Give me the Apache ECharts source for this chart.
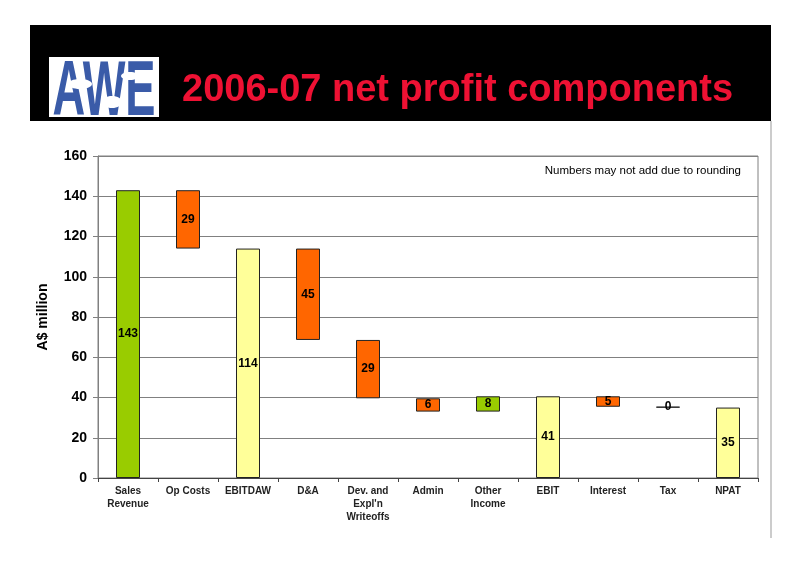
<!DOCTYPE html>
<html>
<head>
<meta charset="utf-8">
<script src="https://cdn.jsdelivr.net/npm/echarts@6/dist/echarts.min.js"></script>
<style>
html,body{margin:0;padding:0;background:#fff;}
#c{width:800px;height:565px;}
</style>
</head>
<body>
<div id="c"></div>
<script>
const categories = ['Sales\nRevenue', 'Op Costs', 'EBITDAW', 'D&A', "Dev. and\nExpl'n\nWriteoffs", 'Admin', 'Other\nIncome', 'EBIT', 'Interest', 'Tax', 'NPAT'];
const bottoms = [0, 114, 0, 68.6, 39.6, 33.0, 33.0, 0, 35.4, 35.0, 0];
const tops = [143, 143, 114, 114, 68.6, 39.6, 40.6, 40.6, 40.6, 35.4, 35.0];
const labelValues = [143, 29, 114, 45, 29, 6, 8, 41, 5, 0, 35];
const kinds = ['income', 'cost', 'total', 'cost', 'cost', 'cost', 'income', 'total', 'cost', 'cost', 'total'];
const yTicks = [0, 20, 40, 60, 80, 100, 120, 140, 160];

const kindColors = { income: '#99CC00', cost: '#FF6600', total: '#FFFF99' };

const chart = echarts.init(document.getElementById('c'), null, { renderer: 'canvas' });

const option = {
  animation: false,
  backgroundColor: '#ffffff',
  grid: { left: 98, right: 42, top: 156, bottom: 87, show: true, borderColor: '#808080', borderWidth: 1, backgroundColor: 'transparent' },
  xAxis: {
    type: 'category',
    data: categories,
    axisLine: { lineStyle: { color: '#444', width: 1 } },
    axisTick: { show: true, length: 4, lineStyle: { color: '#444' } },
    axisLabel: { interval: 0, margin: 7, fontFamily: 'Liberation Sans, Arial', fontWeight: 'bold', fontSize: 10, color: '#222', lineHeight: 13 }
  },
  yAxis: {
    type: 'value',
    min: yTicks[0],
    max: yTicks[yTicks.length - 1],
    interval: 20,
    name: 'A$ million',
    nameLocation: 'middle',
    nameGap: 48,
    nameTextStyle: { fontFamily: 'Liberation Sans, Arial', fontWeight: 'bold', fontSize: 14, color: '#000' },
    axisLine: { show: true, lineStyle: { color: '#808080' } },
    axisTick: { show: true, length: 5, lineStyle: { color: '#808080' } },
    axisLabel: { margin: 11, fontFamily: 'Liberation Sans, Arial', fontWeight: 'bold', fontSize: 14, color: '#000' },
    splitLine: { show: true, lineStyle: { color: '#808080', width: 1 } }
  },
  series: [
    {
      type: 'bar',
      stack: 'w',
      barWidth: 24,
      silent: true,
      itemStyle: { color: 'transparent', borderWidth: 0 },
      data: bottoms
    },
    {
      type: 'bar',
      stack: 'w',
      barWidth: 24,
      data: tops.map((t, i) => ({
        value: +(t - bottoms[i]).toFixed(2),
        itemStyle: { color: kindColors[kinds[i]], borderColor: '#222', borderWidth: 1 }
      })),
      label: {
        show: true,
        position: 'inside',
        formatter: p => String(labelValues[p.dataIndex]),
        fontFamily: 'Liberation Sans, Arial',
        fontWeight: 'bold',
        fontSize: 12,
        color: '#000'
      }
    }
  ],
  graphic: [
    { type: 'rect', shape: { x: 30, y: 25, width: 741, height: 96 }, style: { fill: '#000' }, z: 0 },
    { type: 'rect', shape: { x: 770, y: 121, width: 2, height: 417 }, style: { fill: '#cccccc' }, z: 0 },
    { type: 'rect', shape: { x: 49, y: 57, width: 110, height: 60 }, style: { fill: '#ffffff' }, z: 1 },
    {
      type: 'text', x: 104, y: 93, scaleX: 0.58, z: 2,
      style: { text: 'AWE', fill: '#3A5BA8', font: 'bold 78px "Liberation Sans", Arial', align: 'center', verticalAlign: 'middle' }
    },
    { type: 'ellipse', shape: { cx: 80, cy: 84, rx: 12, ry: 5 }, style: { fill: '#fff' }, z: 3 },
    { type: 'ellipse', shape: { cx: 112, cy: 102, rx: 10, ry: 6 }, style: { fill: '#fff' }, z: 3 },
    { type: 'ellipse', shape: { cx: 130, cy: 76, rx: 9, ry: 4 }, style: { fill: '#fff' }, z: 3 },
    {
      type: 'text', x: 182, y: 91, z: 2,
      style: { text: '2006-07 net profit components', fill: '#EE1133', font: 'bold 38px "Liberation Sans", Arial', align: 'left', verticalAlign: 'middle' }
    },
    {
      type: 'text', x: 741, y: 171, z: 5,
      style: { text: 'Numbers may not add due to rounding', fill: '#000', font: '11.5px "Liberation Sans", Arial', align: 'right', verticalAlign: 'middle' }
    }
  ]
};
chart.setOption(option);
</script>
</body>
</html>
